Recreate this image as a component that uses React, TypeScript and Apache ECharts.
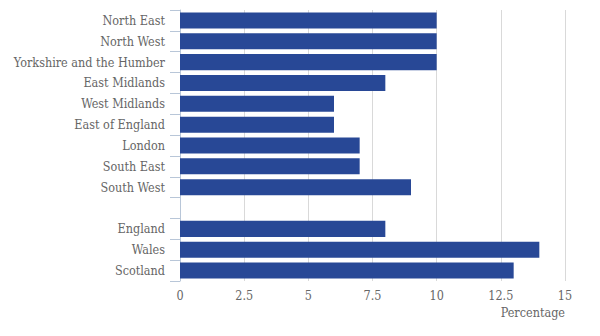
import React, { useEffect, useRef } from "react";
import * as echarts from "echarts";

const categories = [
  "North East",
  "North West",
  "Yorkshire and the Humber",
  "East Midlands",
  "West Midlands",
  "East of England",
  "London",
  "South East",
  "South West",
  "",
  "England",
  "Wales",
  "Scotland",
];
const values: (number | null)[] = [10, 10, 10, 8, 6, 6, 7, 7, 9, null, 8, 14, 13];
const xTicks = { min: 0, max: 15, interval: 2.5 };
const xAxisName = "Percentage";

const FONT = "'DejaVu Serif Condensed', 'DejaVu Serif', serif";
const FS = 12.5;

export default function App() {
  const ref = useRef<HTMLDivElement>(null);
  useEffect(() => {
    if (!ref.current) return;
    const chart = echarts.init(ref.current, null, { renderer: "svg" });
    chart.setOption({
      animation: false,
      grid: { left: 180, right: 35, top: 10, bottom: 55, containLabel: false },
      xAxis: {
        type: "value",
        min: xTicks.min,
        max: xTicks.max,
        interval: xTicks.interval,
        name: xAxisName,
        nameLocation: "end",
        nameGap: 0,
        nameTextStyle: {
          fontFamily: FONT,
          fontSize: FS,
          color: "#666",
          align: "right",
          verticalAlign: "top",
          padding: [25, 0, 0, 0],
        },
        axisLine: { show: false },
        axisTick: { show: false },
        axisLabel: {
          fontFamily: FONT,
          fontSize: FS,
          color: "#666",
          margin: 8,
          formatter: (v: number) => String(v),
        },
        splitLine: { show: true, lineStyle: { color: "#d9d9d9", width: 1 } },
      },
      yAxis: {
        type: "category",
        data: categories,
        inverse: true,
        axisLine: { show: true, lineStyle: { color: "#b8c6d8", width: 1 } },
        axisTick: { show: true, length: 10, lineStyle: { color: "#b8c6d8" } },
        axisLabel: {
          fontFamily: FONT,
          fontSize: FS,
          color: "#666",
          margin: 15,
        },
        splitLine: { show: false },
      },
      series: [
        {
          type: "bar",
          data: values,
          barCategoryGap: "23%",
          itemStyle: { color: "#284896" },
        },
      ],
    });
    return () => chart.dispose();
  }, []);
  return <div ref={ref} style={{ width: 600, height: 336, margin: -8 }} />;
}
